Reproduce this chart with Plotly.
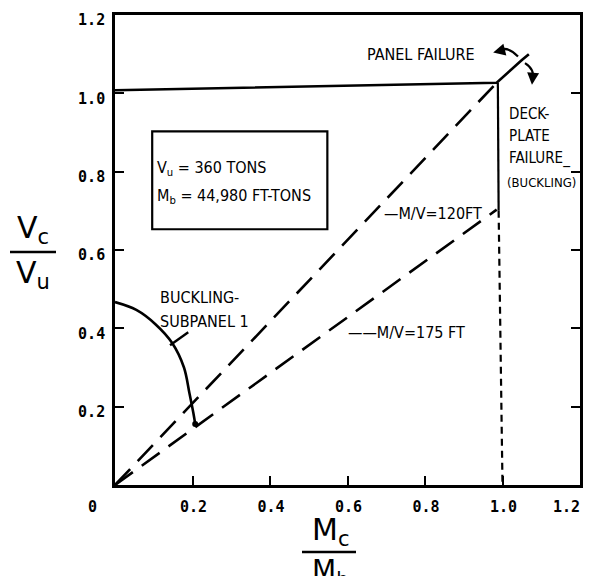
import plotly.graph_objects as go

# ---------------- data ----------------
tick_vals = [0.2, 0.4, 0.6, 0.8, 1.0, 1.2]
tick_text = ["0.2", "0.4", "0.6", "0.8", "1.0", "1.2"]
right_tick_vals = [0.2, 0.4, 0.6, 0.8, 1.0]

# panel failure limit (solid)
panel_x = [0.0, 0.985, 1.05, 1.068]
panel_y = [1.008, 1.027, 1.085, 1.10]

# M/V = 120 ft load line (dashed)
mv120_x = [0.0, 0.985]
mv120_y = [0.0, 1.027]

# M/V = 175 ft load line (dashed)
mv175_x = [0.0, 0.985]
mv175_y = [0.0, 0.703]

# deck-plate failure (vertical)
deck_solid_x = [0.988, 0.99]
deck_solid_y = [1.027, 0.70]
deck_dash_x = [0.99, 1.0]
deck_dash_y = [0.70, 0.0]

# buckling - subpanel 1 interaction curve
buck_x = [0.0, 0.055, 0.105, 0.148, 0.178, 0.192, 0.202, 0.207]
buck_y = [0.467, 0.447, 0.41, 0.362, 0.30, 0.235, 0.185, 0.156]

# leader line for buckling label
lead_x = [0.142, 0.189]
lead_y = [0.357, 0.390]

FONT = "DejaVu Sans Condensed, Liberation Sans Narrow, sans-serif"
TICKFONT = "DejaVu Sans Mono, monospace"

fig = go.Figure()

line_w = 2.6
fig.add_trace(go.Scatter(x=panel_x, y=panel_y, mode="lines",
                         line=dict(color="black", width=line_w), hoverinfo="skip"))
fig.add_trace(go.Scatter(x=mv120_x, y=mv120_y, mode="lines",
                         line=dict(color="black", width=line_w, dash="22px,11px"), hoverinfo="skip"))
fig.add_trace(go.Scatter(x=mv175_x, y=mv175_y, mode="lines",
                         line=dict(color="black", width=line_w, dash="22px,11px"), hoverinfo="skip"))
fig.add_trace(go.Scatter(x=deck_solid_x, y=deck_solid_y, mode="lines",
                         line=dict(color="black", width=2.2), hoverinfo="skip"))
fig.add_trace(go.Scatter(x=deck_dash_x, y=deck_dash_y, mode="lines",
                         line=dict(color="black", width=2.2, dash="7px,5px"), hoverinfo="skip"))
fig.add_trace(go.Scatter(x=buck_x, y=buck_y, mode="lines",
                         line=dict(color="black", width=line_w, shape="spline"), hoverinfo="skip"))
fig.add_trace(go.Scatter(x=[buck_x[-1]], y=[buck_y[-1]], mode="markers",
                         marker=dict(color="black", size=6), hoverinfo="skip"))
fig.add_trace(go.Scatter(x=lead_x, y=lead_y, mode="lines",
                         line=dict(color="black", width=2.4), hoverinfo="skip"))
# dummy trace so the right-hand tick axis is drawn
fig.add_trace(go.Scatter(x=[None], y=[None], yaxis="y2", mode="lines", hoverinfo="skip"))

# curved arrows at panel failure point
fig.add_shape(type="path", xref="x", yref="y",
              path="M 1.040 1.094 Q 1.010 1.125 0.985 1.106",
              line=dict(color="black", width=2.2))
fig.add_shape(type="path", xref="x", yref="y",
              path="M 1.058 1.077 Q 1.085 1.060 1.077 1.035",
              line=dict(color="black", width=2.2))
fig.add_annotation(x=0.976, y=1.104, ax=0.992, ay=1.108, xref="x", yref="y",
                   axref="x", ayref="y", showarrow=True, arrowhead=2, arrowsize=1.2,
                   arrowwidth=2, arrowcolor="black", text="")
fig.add_annotation(x=1.076, y=1.022, ax=1.078, ay=1.042, xref="x", yref="y",
                   axref="x", ayref="y", showarrow=True, arrowhead=2, arrowsize=1.2,
                   arrowwidth=2, arrowcolor="black", text="")

# box with constants
fig.add_shape(type="rect", xref="x", yref="y", x0=0.096, x1=0.548, y0=0.653, y1=0.903,
              line=dict(color="black", width=2.2))

def label(x, y, text, size=16, anchor="left", xref="x", yref="y", family=FONT, xshift=0):
    fig.add_annotation(x=x, y=y, xref=xref, yref=yref, text=text, showarrow=False,
                       xanchor=anchor, yanchor="middle", xshift=xshift,
                       font=dict(family=family, size=size, color="black"))

label(0.103, 0.809, "V<sub>u</sub> = 360 TONS")
label(0.103, 0.737, "M<sub>b</sub> = 44,980 FT-TONS")
label(0.79, 1.10, "PANEL FAILURE", anchor="center")
label(1.012, 0.948, "DECK-", size=15)
label(1.012, 0.890, "PLATE", size=15)
label(1.012, 0.833, "FAILURE_", size=15)
label(1.006, 0.772, "(BUCKLING)", size=13)
label(0.688, 0.694, "—M/V=120FT")
label(0.597, 0.390, "——M/V=175 FT")
label(0.111, 0.480, "BUCKLING-")
label(0.111, 0.418, "SUBPANEL 1")

# corner zero label
label(-0.049, -0.047, "<b>0</b>", size=15, anchor="center", xref="paper", yref="paper",
      family=TICKFONT)
# last x tick label, kept inside the visible window at the right edge
fig.add_annotation(x=tick_vals[-1], y=-0.047, xref="x", yref="paper",
                   text="<b>%s</b>" % tick_text[-1], showarrow=False,
                   xanchor="right", yanchor="middle", xshift=2,
                   font=dict(family=TICKFONT, size=15, color="black"))

# axis titles as fractions (positions given in page pixels of the plot frame)
TFONT = "DejaVu Sans, sans-serif"
def px2paper(px, py):
    return (px - 115) / 465.0, (485 - py) / 470.0

vx, vy = px2paper(33, 229)
label(vx, vy, "V<sub>c</sub>", size=30, anchor="center", xref="paper", yref="paper", family=TFONT)
vx, vy = px2paper(33, 274)
label(vx, vy, "V<sub>u</sub>", size=30, anchor="center", xref="paper", yref="paper", family=TFONT)
bx0, by = px2paper(10, 252)
bx1, _ = px2paper(56, 252)
fig.add_shape(type="line", xref="paper", yref="paper", x0=bx0, x1=bx1, y0=by, y1=by,
              line=dict(color="black", width=2.5))

mx, my = px2paper(330, 531)
label(mx, my, "M<sub>c</sub>", size=30, anchor="center", xref="paper", yref="paper", family=TFONT)
mx, my = px2paper(330, 572)
label(mx, my, "M<sub>b</sub>", size=28, anchor="center", xref="paper", yref="paper", family=TFONT)
bx0, by = px2paper(302, 552)
bx1, _ = px2paper(356, 552)
fig.add_shape(type="line", xref="paper", yref="paper", x0=bx0, x1=bx1, y0=by, y1=by,
              line=dict(color="black", width=2.5))

axis_common = dict(range=[0, 1.2], showgrid=False, zeroline=False, showline=True,
                   linecolor="black", linewidth=2.6, ticks="inside", ticklen=9,
                   tickwidth=2, tickcolor="black", automargin=False,
                   ticklabeloverflow="allow",
                   tickfont=dict(family=TICKFONT, size=15, color="black"))

# the page has an 8px body margin; keep the figure inside the window (no scrollbars)
fig.update_layout(
    width=584, height=568,
    margin=dict(l=107, r=12, t=7, b=91, autoexpand=False),
    paper_bgcolor="white", plot_bgcolor="white",
    showlegend=False,
    xaxis=dict(**axis_common, tickvals=tick_vals[:-1],
               ticktext=["<b>%s</b>" % t for t in tick_text[:-1]],
               mirror=True, ticklabelstandoff=6, ticklabelshift=1),
    yaxis=dict(**axis_common, tickvals=tick_vals, ticktext=["<b>%s</b>" % t for t in tick_text],
               mirror=True, ticklabelstandoff=4, ticklabelshift=5),
    yaxis2=dict(range=[0, 1.2], overlaying="y", side="right", anchor="x",
                showgrid=False, zeroline=False, showline=False, showticklabels=False,
                ticks="inside", ticklen=9, tickwidth=2, tickcolor="black", automargin=False,
                tickvals=right_tick_vals),
)

fig.write_html("out.html")
